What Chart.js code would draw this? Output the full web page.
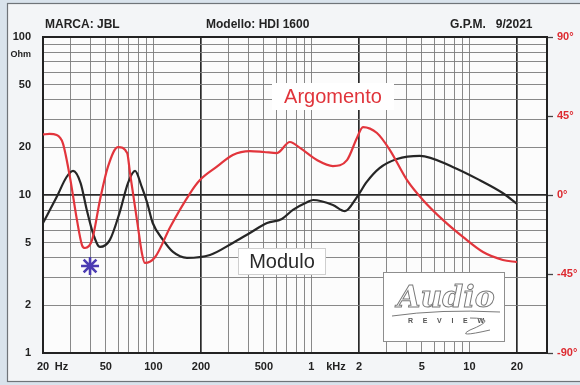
<!DOCTYPE html>
<html>
<head>
<meta charset="utf-8">
<script src="https://cdn.jsdelivr.net/npm/chart.js@4.4.1/dist/chart.umd.min.js"></script>
<style>
html,body{margin:0;padding:0;background:#d9e3ec;}
canvas{display:block;}
</style>
</head>
<body>
<canvas id="c" width="580" height="385"></canvas>
<script>
// ---- data ----
const moduloFreq = [20, 24.4, 28.2, 31, 34.6, 37.9, 41.4, 45.9, 53, 61, 69, 76.5, 84.5, 91.4, 99, 115, 133, 163, 228, 318, 408, 524, 650, 764, 938, 1026, 1368, 1630, 1942, 2240, 2700, 3480, 4860, 7900, 11660, 16240, 20000];
const moduloOhm  = [6.65, 9.7, 13.0, 14.2, 11.9, 8.0, 5.75, 4.69, 5.2, 7.7, 11.9, 14.2, 11.2, 8.9, 6.65, 5.2, 4.36, 4.0, 4.17, 4.97, 5.75, 6.65, 7.05, 8.05, 9.0, 9.3, 8.65, 7.9, 9.7, 12.1, 14.8, 16.9, 17.7, 15.0, 12.4, 10.3, 8.8];

const argomentoFreq = [20, 22, 24.4, 26.7, 29.6, 32.8, 35.3, 36.9, 40.9, 45.9, 51.5, 59.6, 68.2, 71.1, 79.2, 84.5, 88.2, 102.6, 127.8, 170.9, 197, 251, 318, 408, 500, 605, 731, 847, 1084, 1368, 1680, 1942, 2120, 2600, 3140, 4030, 5080, 6800, 9100, 12200, 16300, 20000];
const argomentoDeg  = [34.5, 34.8, 34.2, 29.6, 10.3, -14.2, -28.5, -30.2, -25.6, -2.8, 16, 27.3, 23.9, 12.5, -16, -33, -38.7, -35.3, -18.2, 1.1, 8.5, 16, 22.8, 25, 24.5, 23.9, 30.2, 26.8, 19.9, 16.5, 19.9, 32.5, 38.7, 35.3, 25.6, 8.5, -2.8, -14.2, -23.9, -32.5, -37, -38.2];

const markerFreq = [39.7];
const markerOhm  = [3.55];

const freqGridTicks = [20,30,40,50,60,70,80,90,100,200,300,400,500,600,700,800,900,1000,2000,3000,4000,5000,6000,7000,8000,9000,10000,20000];
const freqMajor = [20,200,2000,20000];
const freqLabels = {20:'20', 26.2:'Hz', 50:'50', 100:'100', 200:'200', 500:'500', 1000:'1', 1430:'kHz', 2000:'2', 5000:'5', 10000:'10', 20000:'20'};
const freqLabelOnly = [26.2, 1430];

const ohmGridTicks = [1,2,3,4,5,6,7,8,9,10,20,30,40,50,60,70,80,90,100];
const ohmLabels = {1:'1',2:'2',5:'5',10:'10',20:'20',50:'50',100:'100',77:'Ohm'};
const ohmLabelOnly = [77];

const degTicks = [-90,-45,0,45,90];

const titleLeft = 'MARCA: JBL';
const titleMid = 'Modello: HDI 1600';
const titleRight = 'G.P.M.   9/2021';

const toXY = (xs, ys) => xs.map((x,i)=>({x:x, y:ys[i]}));

const FONT = "'Liberation Sans', Arial, sans-serif";

const decor = {
  id:'decor',
  beforeDraw(chart){
    const ctx = chart.ctx, a = chart.chartArea;
    ctx.save();
    ctx.fillStyle = '#d9e3ec';
    ctx.fillRect(0,0,580,385);
    ctx.fillStyle = '#f3f5f7';
    ctx.fillRect(7.5,3.5,580,378);
    ctx.strokeStyle = '#6f7479';
    ctx.lineWidth = 1.2;
    ctx.strokeRect(7.5,3.5,580,378);
    ctx.fillStyle = '#fcfcfc';
    ctx.fillRect(a.left,a.top,a.right-a.left,a.bottom-a.top);
    // titles
    ctx.fillStyle = '#232323';
    ctx.font = "bold 12px " + FONT;
    ctx.textBaseline = 'middle';
    ctx.textAlign = 'left';
    ctx.fillText(titleLeft, 45, 25);
    ctx.fillText(titleMid, 206, 25);
    ctx.fillText(titleRight, 450, 25);
    ctx.restore();
  },
  beforeDatasetsDraw(chart){
    const ctx = chart.ctx, a = chart.chartArea;
    ctx.save();
    ctx.strokeStyle = '#222';
    ctx.lineWidth = 2;
    ctx.strokeRect(a.left,a.top,a.right-a.left,a.bottom-a.top);
    // Argomento box
    ctx.fillStyle = '#ffffff';
    ctx.fillRect(272,83,122,27);
    ctx.font = "20px " + FONT;
    ctx.textAlign = 'center';
    ctx.textBaseline = 'middle';
    ctx.fillStyle = '#e0343b';
    ctx.fillText('Argomento', 333, 97);
    // Modulo box
    ctx.fillStyle = '#ffffff';
    ctx.fillRect(238,248,88,27);
    ctx.strokeStyle = '#cfcfcf';
    ctx.lineWidth = 1;
    ctx.strokeRect(238.5,248.5,87,26);
    ctx.fillStyle = '#2a2a2a';
    ctx.fillText('Modulo', 282, 262);
    // logo box
    ctx.fillStyle = '#ffffff';
    ctx.fillRect(383,272,122,70);
    ctx.strokeStyle = '#8e8e8e';
    ctx.lineWidth = 1;
    ctx.strokeRect(383.5,272.5,121,69);
    ctx.font = "italic bold 30px 'DejaVu Serif', serif";
    ctx.strokeStyle = '#7a7a7a';
    ctx.lineWidth = 1;
    ctx.strokeText('Audio', 446, 299);
    ctx.beginPath();
    ctx.moveTo(392,316); ctx.quadraticCurveTo(440,309,500,312);
    ctx.stroke();
    ctx.font = "bold 7px " + FONT;
    ctx.fillStyle = '#555';
    ctx.fillText('R     E     V     I     E     W', 446, 321);
    ctx.beginPath();
    ctx.moveTo(470,318); ctx.quadraticCurveTo(500,318,470,330); ctx.quadraticCurveTo(455,338,490,330);
    ctx.stroke();
    ctx.restore();
  }
};

new Chart(document.getElementById('c'), {
  type:'scatter',
  data:{
    datasets:[
      {label:'Argomento', data: toXY(argomentoFreq, argomentoDeg), yAxisID:'y2', showLine:true,
       borderColor:'#e2353c', borderWidth:2.2, pointRadius:0, cubicInterpolationMode:'monotone'},
      {label:'Modulo', data: toXY(moduloFreq, moduloOhm), yAxisID:'y', showLine:true,
       borderColor:'#262626', borderWidth:2.2, pointRadius:0, cubicInterpolationMode:'monotone'},
      {label:'marker', data: toXY(markerFreq, markerOhm), yAxisID:'y', showLine:false,
       pointStyle:'star', pointRadius:9, borderColor:'#4b3bb2', borderWidth:2.6, backgroundColor:'#4b3bb2'}
    ]
  },
  options:{
    responsive:false,
    animation:false,
    events:[],
    layout:{padding:{top:37,left:0,right:0,bottom:0}},
    plugins:{legend:{display:false}, tooltip:{enabled:false}},
    scales:{
      x:{
        type:'logarithmic', min:20, max:31000, position:'bottom',
        afterBuildTicks(s){ s.ticks = freqGridTicks.concat(freqLabelOnly).sort((p,q)=>p-q).map(v=>({value:v})); },
        afterFit(s){ s.height = 32; },
        ticks:{autoSkip:false, maxRotation:0, minRotation:0, padding:7, color:'#222',
          font:{family:FONT, size:11, weight:'bold'},
          callback(v){ return freqLabels[v] !== undefined ? freqLabels[v] : ''; }},
        grid:{drawTicks:false,
          color(c){ const v=c.tick&&c.tick.value; if(freqLabelOnly.includes(v)) return 'rgba(0,0,0,0)'; return freqMajor.includes(v)?'#2a2a2a':'#7c7c7c'; },
          lineWidth(c){ const v=c.tick&&c.tick.value; return freqMajor.includes(v)?1.7:0.9; }},
        border:{display:true, color:'#222', width:2}
      },
      y:{
        type:'logarithmic', min:1, max:100, position:'left',
        afterBuildTicks(s){ s.ticks = ohmGridTicks.concat(ohmLabelOnly).sort((p,q)=>p-q).map(v=>({value:v})); },
        afterFit(s){ s.width = 43; },
        ticks:{autoSkip:false, padding:12, color:'#222',
          font(c){ const v=c.tick&&c.tick.value; return {family:FONT, size: v===77?9:11, weight:'bold'}; },
          callback(v){ return ohmLabels[v] !== undefined ? ohmLabels[v] : ''; }},
        grid:{drawTicks:false,
          color(c){ const v=c.tick&&c.tick.value; if(ohmLabelOnly.includes(v)) return 'rgba(0,0,0,0)'; return v===10?'#2a2a2a':'#7c7c7c'; },
          lineWidth(c){ const v=c.tick&&c.tick.value; return v===10?1.7:0.9; }},
        border:{display:true, color:'#222', width:2}
      },
      y2:{
        type:'linear', min:-90, max:90, position:'right',
        afterBuildTicks(s){ s.ticks = degTicks.map(v=>({value:v})); },
        afterFit(s){ s.width = 33; },
        ticks:{autoSkip:false, padding:4, color:'#dd2a30',
          font:{family:FONT, size:11, weight:'bold'},
          callback(v){ return v + '°'; }},
        grid:{drawOnChartArea:false, drawTicks:true, tickLength:6, tickColor:'#444', tickWidth:1.3},
        border:{display:true, color:'#222', width:2}
      }
    }
  },
  plugins:[decor]
});
</script>
</body>
</html>
